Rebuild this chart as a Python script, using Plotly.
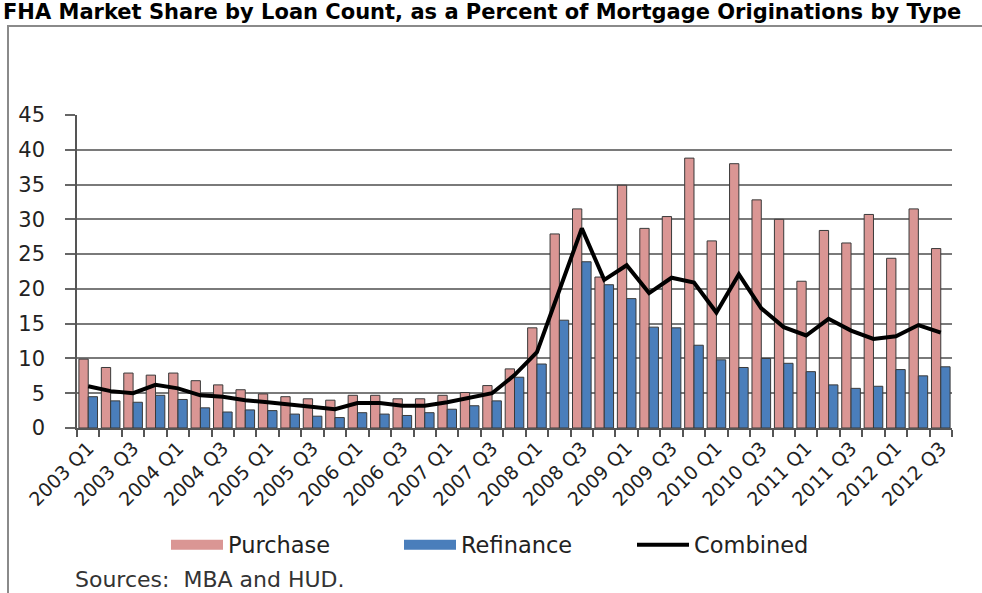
import plotly.graph_objects as go

quarters = [f"{y} Q{q}" for y in range(2003, 2013) for q in range(1, 5)][:39]

purchase = [9.9, 8.7, 7.9, 7.6, 7.9, 6.8, 6.2, 5.5, 4.9, 4.5, 4.2, 4.0,
            4.7, 4.7, 4.2, 4.2, 4.7, 5.1, 6.1, 8.5, 14.4, 27.9, 31.5, 21.7,
            34.9, 28.7, 30.4, 38.8, 26.9, 38.0, 32.8, 30.0, 21.1, 28.4, 26.6,
            30.7, 24.4, 31.5, 25.8]
refinance = [4.5, 3.9, 3.7, 4.7, 4.1, 2.9, 2.3, 2.6, 2.5, 2.0, 1.7, 1.5,
             2.2, 2.0, 1.8, 2.2, 2.7, 3.2, 3.9, 7.3, 9.2, 15.5, 23.9, 20.6,
             18.6, 14.5, 14.4, 11.9, 9.8, 8.7, 10.0, 9.3, 8.1, 6.2, 5.7,
             6.0, 8.4, 7.5, 8.8]
combined = [6.0, 5.3, 5.0, 6.2, 5.7, 4.7, 4.5, 4.0, 3.7, 3.4, 3.0, 2.7,
            3.6, 3.6, 3.2, 3.2, 3.7, 4.3, 5.0, 7.6, 10.9, 19.8, 28.7, 21.3,
            23.4, 19.4, 21.6, 20.9, 16.6, 22.1, 17.2, 14.5, 13.3, 15.7, 14.0,
            12.8, 13.2, 14.8, 13.7]

tick_text = [q if i % 2 == 0 else "" for i, q in enumerate(quarters)]

PINK = "#DA9694"
BLUE = "#4A7EBB"
EDGE = "#3a3a3a"

W, H = 982, 593
L, R, T, B = 77, 30, 115, 165
pw = W - L - R
ph = H - T - B

def px_x(p):
    return (p - L) / pw

def px_y(p):
    return (H - B - p) / ph

FONT = "'DejaVu Sans', sans-serif"
TXT = "#222222"

fig = go.Figure()
fig.add_trace(go.Bar(x=quarters, y=purchase, name="Purchase", legendgroup="p",
                     showlegend=False,
                     marker=dict(color=PINK, line=dict(color=EDGE, width=1))))
fig.add_trace(go.Bar(x=quarters, y=refinance, name="Refinance", legendgroup="r",
                     showlegend=False,
                     marker=dict(color=BLUE, line=dict(color=EDGE, width=1))))
fig.add_trace(go.Scatter(x=quarters, y=combined, name="Combined", mode="lines",
                         legendgroup="c", legendrank=3,
                         line=dict(color="black", width=4)))
# legend-only entries giving wide rectangular swatches for the bar series
fig.add_trace(go.Scatter(x=[None], y=[None], name="Purchase", mode="lines",
                         legendgroup="p", legendrank=1,
                         line=dict(color=PINK, width=13)))
fig.add_trace(go.Scatter(x=[None], y=[None], name="Refinance", mode="lines",
                         legendgroup="r", legendrank=2,
                         line=dict(color=BLUE, width=13)))

fig.update_layout(
    width=W, height=H,
    margin=dict(l=L, r=R, t=T, b=B),
    paper_bgcolor="white", plot_bgcolor="white",
    barmode="group", bargap=0.17, bargroupgap=0,
    font=dict(family=FONT, color=TXT),
    showlegend=True,
    legend=dict(orientation="h", x=px_x(166), xanchor="left",
                y=px_y(545), yanchor="middle",
                font=dict(size=22.5, color=TXT), itemwidth=52,
                entrywidth=166, entrywidthmode="pixels",
                traceorder="normal",
                bgcolor="rgba(0,0,0,0)"),
    xaxis=dict(type="category", range=[-0.5, 38.5],
               tickmode="array", tickvals=quarters, ticktext=tick_text,
               tickson="boundaries", ticks="outside", ticklen=7,
               tickcolor="#555", tickwidth=1.5,
               tickangle=-45, tickfont=dict(size=19, color=TXT),
               showline=True, linecolor="#555", linewidth=1.5,
               showgrid=False, zeroline=False),
    yaxis=dict(range=[0, 45], dtick=5, tick0=0,
               ticks="outside", ticklen=10, tickcolor="#666", tickwidth=1.5,
               tickfont=dict(size=21, color=TXT), ticklabelstandoff=16,
               showline=True, linecolor="#555", linewidth=1.5,
               showgrid=True, gridcolor="#7a7a7a", gridwidth=1.5,
               zeroline=False),
    shapes=[dict(type="rect", xref="paper", yref="paper",
                 x0=px_x(8), x1=px_x(1000), y0=px_y(26), y1=px_y(620),
                 line=dict(color="#8a8a8a", width=2), fillcolor="rgba(0,0,0,0)",
                 layer="below")],
    annotations=[
        dict(text="<b>FHA Market Share by Loan Count, as a Percent of Mortgage Originations by Type</b>",
             xref="paper", yref="paper", x=px_x(1), xanchor="left",
             y=px_y(12), yanchor="middle", showarrow=False,
             font=dict(size=21, color="black", family=FONT)),
        dict(text="Sources:&nbsp; MBA and HUD.",
             xref="paper", yref="paper", x=px_x(73), xanchor="left",
             y=px_y(579), yanchor="middle", showarrow=False,
             font=dict(size=22, color="#333", family=FONT)),
    ],
)

fig.write_html("out.html")
